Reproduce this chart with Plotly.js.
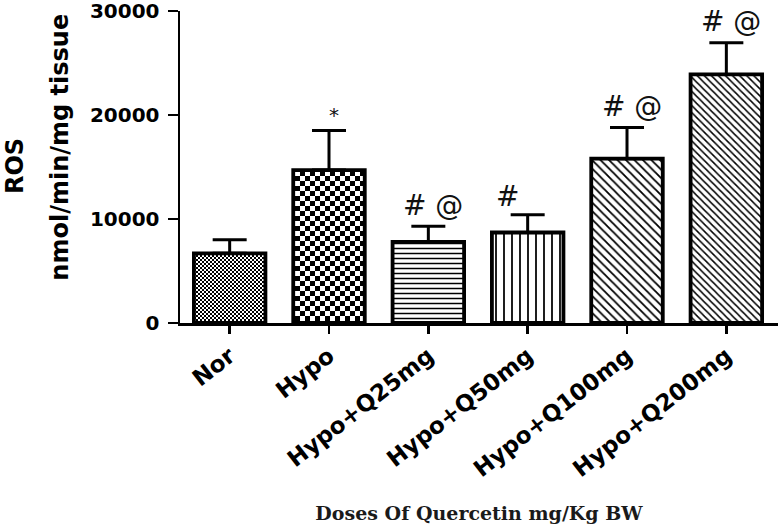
<!DOCTYPE html>
<html>
<head>
<meta charset="utf-8">
<script src="https://cdn.plot.ly/plotly-3.0.1.min.js"></script>
<style>
html,body{margin:0;padding:0;background:#fff;}
#chart{width:780px;height:525px;}
</style>
</head>
<body>
<div id="chart"></div>
<script>
// ---- data ----
const groups = ["Nor", "Hypo", "Hypo+Q25mg", "Hypo+Q50mg", "Hypo+Q100mg", "Hypo+Q200mg"];
const rosMean = [6700, 14700, 7800, 8700, 15800, 23900];
const rosSEM = [1300, 3800, 1500, 1700, 3000, 3050];
const signif = ["", "*", "# @", "#", "# @", "# @"];
const yTicks = [0, 10000, 20000, 30000];

// ---- styling ----
const patShapes = [".", ".", "-", "|", "\\", "\\"];
const patSizes = [4, 10, 5, 8, 6, 5];
const patSolid = [0.5, 0.45, 0.3, 0.22, 0.3, 0.3];
// checkerboard cell size (px) for groups drawn as checkers (0 = keep library pattern)
const checkerCell = [2, 5, 0, 0, 0, 0];

const trace = {
  type: "bar",
  x: groups,
  y: rosMean,
  width: 0.72,
  marker: {
    color: "#ffffff",
    line: {color: "#000000", width: 3.8},
    pattern: {
      shape: patShapes,
      size: patSizes,
      solidity: patSolid,
      fgcolor: "#000000",
      bgcolor: "#ffffff",
      fillmode: "replace"
    }
  },
  error_y: {
    type: "data",
    symmetric: false,
    array: rosSEM,
    arrayminus: rosSEM.map(() => 0),
    color: "#000000",
    thickness: 3,
    width: 17
  },
  hoverinfo: "none"
};

const annotations = [];
groups.forEach((g, i) => {
  if (!signif[i]) return;
  const isStar = signif[i] === "*";
  annotations.push({
    x: g, y: rosMean[i] + rosSEM[i], xref: "x", yref: "y",
    text: signif[i], showarrow: false,
    xanchor: "center", yanchor: "middle",
    xshift: signif[i] === "#" ? -20 : 5,
    yshift: isStar ? 16 : (signif[i] === "#" ? 18 : 21),
    font: {family: "DejaVu Sans", size: isStar ? 20 : 28, color: "#111111"}
  });
});
annotations.push({
  xref: "paper", yref: "paper", x: 0, y: 0.503, xshift: -165,
  text: "ROS", showarrow: false, textangle: -90,
  xanchor: "center", yanchor: "middle",
  font: {family: "DejaVu Sans", size: 24, color: "#000000", weight: "bold"}
});
annotations.push({
  xref: "paper", yref: "paper", x: 0, y: 0.562, xshift: -120,
  text: "nmol/min/mg tissue", showarrow: false, textangle: -90,
  xanchor: "center", yanchor: "middle",
  font: {family: "DejaVu Sans", size: 24, color: "#000000", weight: "bold"}
});

const layout = {
  width: 780, height: 525,
  margin: {l: 180, r: 2, t: 11, b: 202, pad: 0},
  paper_bgcolor: "#ffffff",
  plot_bgcolor: "#ffffff",
  showlegend: false,
  xaxis: {
    type: "category",
    range: [-0.5, 5.52],
    showline: true, linecolor: "#000000", linewidth: 2.5,
    ticks: "outside", ticklen: 8, tickwidth: 2.5, tickcolor: "#000000",
    tickangle: -38,
    tickfont: {family: "DejaVu Sans", size: 23, color: "#000000", weight: "bold"},
    showgrid: false, zeroline: false, automargin: false,
    title: {
      text: "Doses Of Quercetin mg/Kg BW",
      font: {family: "DejaVu Serif", size: 19, color: "#1a1a1a", weight: "bold"},
      standoff: 26
    }
  },
  yaxis: {
    range: [0, 30000],
    tickvals: yTicks,
    ticktext: yTicks.map(String),
    showline: true, linecolor: "#000000", linewidth: 2.5,
    ticks: "outside", ticklen: 10, tickwidth: 2.5, tickcolor: "#000000",
    ticklabelstandoff: 4,
    ticklabeloverflow: "allow",
    tickfont: {family: "DejaVu Sans", size: 20, color: "#000000", weight: "bold"},
    showgrid: false, zeroline: false, automargin: false
  },
  annotations: annotations
};

const NS = "http://www.w3.org/2000/svg";
function makeChecker(pat, cell) {
  while (pat.firstChild) pat.removeChild(pat.firstChild);
  const p = cell * 2;
  pat.setAttribute("width", p);
  pat.setAttribute("height", p);
  pat.setAttribute("patternUnits", "userSpaceOnUse");
  const bg = document.createElementNS(NS, "rect");
  bg.setAttribute("x", 0); bg.setAttribute("y", 0);
  bg.setAttribute("width", p); bg.setAttribute("height", p);
  bg.setAttribute("fill", "#ffffff");
  pat.appendChild(bg);
  [[0, 0], [cell, cell]].forEach(([x, y]) => {
    const r = document.createElementNS(NS, "rect");
    r.setAttribute("x", x); r.setAttribute("y", y);
    r.setAttribute("width", cell); r.setAttribute("height", cell);
    r.setAttribute("fill", "#000000");
    pat.appendChild(r);
  });
}

Plotly.newPlot("chart", [trace], layout, {staticPlot: true, displayModeBar: false}).then(gd => {
  const paths = gd.querySelectorAll(".barlayer .point path");
  paths.forEach((path, i) => {
    if (!checkerCell[i]) return;
    const fill = path.style.fill || path.getAttribute("fill") || "";
    const m = fill.match(/#([^'")]+)/);
    if (!m) return;
    const pat = gd.querySelector("pattern[id='" + m[1] + "']") || document.getElementById(m[1]);
    if (pat) makeChecker(pat, checkerCell[i]);
  });
});
</script>
</body>
</html>
